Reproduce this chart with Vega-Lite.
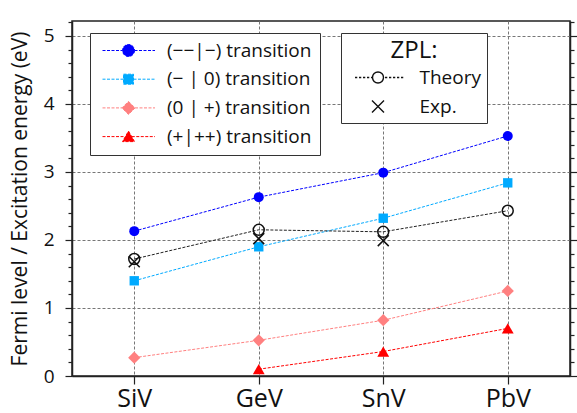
{
  "$schema": "https://vega.github.io/schema/vega-lite/v6.json",
  "autosize": "none",
  "width": 498,
  "height": 355,
  "padding": {"left": 72, "top": 21, "right": 7, "bottom": 37},
  "background": "white",
  "config": {
    "font": "Open Sans",
    "view": {"stroke": "#222", "strokeWidth": 1.5},
    "axis": {
      "labelFont": "Open Sans",
      "titleFont": "Open Sans",
      "labelColor": "#111",
      "titleColor": "#111",
      "tickColor": "#222",
      "domainColor": "#222",
      "domainWidth": 1.5,
      "tickWidth": 1.2,
      "gridColor": "#777",
      "gridDash": [3, 2],
      "gridWidth": 1
    }
  },
  "datasets": {
    "trans": [
      {"site": "SiV", "series": "(−−|−) transition", "energy": 2.13},
      {"site": "GeV", "series": "(−−|−) transition", "energy": 2.63},
      {"site": "SnV", "series": "(−−|−) transition", "energy": 2.99},
      {"site": "PbV", "series": "(−−|−) transition", "energy": 3.53},
      {"site": "SiV", "series": "(− | 0) transition", "energy": 1.40},
      {"site": "GeV", "series": "(− | 0) transition", "energy": 1.90},
      {"site": "SnV", "series": "(− | 0) transition", "energy": 2.32},
      {"site": "PbV", "series": "(− | 0) transition", "energy": 2.84},
      {"site": "SiV", "series": "(0 | +) transition", "energy": 0.27},
      {"site": "GeV", "series": "(0 | +) transition", "energy": 0.525},
      {"site": "SnV", "series": "(0 | +) transition", "energy": 0.82},
      {"site": "PbV", "series": "(0 | +) transition", "energy": 1.25},
      {"site": "GeV", "series": "(+|++) transition", "energy": 0.10},
      {"site": "SnV", "series": "(+|++) transition", "energy": 0.36},
      {"site": "PbV", "series": "(+|++) transition", "energy": 0.70}
    ],
    "zpl": [
      {"site": "SiV", "kind": "Theory", "energy": 1.72},
      {"site": "GeV", "kind": "Theory", "energy": 2.15},
      {"site": "SnV", "kind": "Theory", "energy": 2.12},
      {"site": "PbV", "kind": "Theory", "energy": 2.43},
      {"site": "SiV", "kind": "Exp.", "energy": 1.68},
      {"site": "GeV", "kind": "Exp.", "energy": 2.02},
      {"site": "SnV", "kind": "Exp.", "energy": 1.99}
    ]
  },
  "encoding": {
    "x": {
      "field": "site",
      "type": "ordinal",
      "sort": ["SiV", "GeV", "SnV", "PbV"],
      "scale": {"type": "point", "domain": ["SiV", "GeV", "SnV", "PbV"], "padding": 0.5},
      "axis": {"title": null, "labelAngle": 0, "labelFontSize": 25, "tickSize": 8, "labelPadding": 2, "grid": true, "domain": true}
    }
  },
  "layer": [
    {
      "data": {"name": "trans"},
      "mark": {"type": "line", "strokeDash": [3, 1.5], "strokeWidth": 1},
      "encoding": {
        "y": {
          "field": "energy", "type": "quantitative",
          "scale": {"domain": [0, 5.22], "nice": false, "zero": false},
          "axis": {"orient": "left", "values": [0, 1, 2, 3, 4, 5], "format": "d", "title": "Fermi level / Excitation energy (eV)", "titleFontSize": 21, "titleFontWeight": "normal", "titlePadding": 13, "labelFontSize": 19, "labelPadding": 11, "tickSize": 7, "grid": true}
        },
        "stroke": {
          "field": "series", "type": "nominal",
          "scale": {"domain": ["(− | 0) transition", "(−−|−) transition", "(0 | +) transition", "(+|++) transition"], "range": ["#00aaff", "#0000ff", "#ff8080", "#ff0000"]},
          "legend": null
        }
      }
    },
    {
      "data": {"name": "trans"},
      "mark": {"type": "point", "filled": true, "opacity": 1, "strokeWidth": 0},
      "encoding": {
        "y": {
          "field": "energy", "type": "quantitative",
          "axis": {"orient": "left", "values": [0.2, 0.4, 0.6, 0.8, 1.2, 1.4, 1.6, 1.8, 2.2, 2.4, 2.6, 2.8, 3.2, 3.4, 3.6, 3.8, 4.2, 4.4, 4.6, 4.8, 5.2], "labels": false, "grid": false, "domain": false, "tickSize": 4, "title": null}
        },
        "color": {
          "field": "series", "type": "nominal",
          "scale": {"domain": ["(−−|−) transition", "(− | 0) transition", "(0 | +) transition", "(+|++) transition"], "range": ["#0000ff", "#00aaff", "#ff8080", "#ff0000"]},
          "legend": {
            "orient": "none", "legendX": 18, "legendY": 12, "title": null,
            "padding": 8, "rowPadding": 8.7, "symbolOffset": 21, "labelOffset": 29,
            "labelFontSize": 19, "labelFont": "Open Sans", "labelColor": "#111", "labelLimit": 400,
            "strokeColor": "#333", "fillColor": "white", "symbolSize": 100, "symbolStrokeWidth": 1,
            "symbolOpacity": 1,
            "symbolDash": [3, 1.5],
            "encode": {
              "symbols": {
                "update": {
                  "shape": {"signal": "['M1.2,0A1.2,1.2,0,1,1,-1.2,0A1.2,1.2,0,1,1,1.2,0ZM-5.2,0H-1.2M1.2,0H5.3', 'M-1,-1H1V1H-1ZM-5.2,0H-1M1,0H5.3', 'M0,-1.3L1.3,0L0,1.3L-1.3,0ZM-5.2,0H-1.3M1.3,0H5.3', 'M0,-1.1L1.2,1L-1.2,1ZM-5.2,0H-0.65M0.65,0H5.3'][datum.index]"},
                  "stroke": {"signal": "['#0000ff', '#00aaff', '#ff8080', '#ff0000'][datum.index]"}
                }
              }
            }
          }
        },
        "shape": {
          "field": "series", "type": "nominal",
          "scale": {"domain": ["(0 | +) transition", "(−−|−) transition", "(− | 0) transition", "(+|++) transition"], "range": ["diamond", "circle", "square", "triangle-up"]},
          "legend": null
        },
        "size": {
          "field": "series", "type": "nominal",
          "scale": {"type": "ordinal", "domain": ["(+|++) transition", "(−−|−) transition", "(− | 0) transition", "(0 | +) transition"], "range": [140, 100, 88, 150]},
          "legend": null
        }
      }
    },
    {
      "data": {"name": "zpl"},
      "transform": [{"filter": "datum.kind === 'Theory'"}],
      "mark": {"type": "line", "strokeDash": [3, 1.5], "strokeWidth": 1, "color": "#222"},
      "encoding": {
        "y": {
          "field": "energy", "type": "quantitative",
          "axis": {"orient": "right", "values": [0, 1, 2, 3, 4, 5], "labels": false, "grid": false, "domain": true, "tickSize": 7, "title": null}
        }
      }
    },
    {
      "data": {"name": "zpl"},
      "mark": {"type": "point", "filled": false, "strokeWidth": 1.5, "opacity": 1, "size": 120, "color": "#111111"},
      "encoding": {
        "y": {
          "field": "energy", "type": "quantitative",
          "axis": {"orient": "right", "values": [0.2, 0.4, 0.6, 0.8, 1.2, 1.4, 1.6, 1.8, 2.2, 2.4, 2.6, 2.8, 3.2, 3.4, 3.6, 3.8, 4.2, 4.4, 4.6, 4.8, 5.2], "labels": false, "grid": false, "domain": false, "tickSize": 4, "title": null}
        },
        "shape": {
          "field": "kind", "type": "nominal",
          "scale": {"domain": ["Exp.", "Theory"], "range": ["M-1,-1L1,1M-1,1L1,-1", "circle"]},
          "legend": null
        }
      }
    },
    {
      "data": {"name": "zpl"},
      "mark": {"type": "point", "filled": false, "strokeWidth": 1.4, "opacity": 0, "size": 100, "color": "#111111"},
      "encoding": {
        "y": {"field": "energy", "type": "quantitative", "axis": null},
        "shape": {
          "field": "kind", "type": "nominal",
          "scale": {"domain": ["Theory", "Exp."], "range": ["M1.1,0A1.1,1.1,0,1,1,-1.1,0A1.1,1.1,0,1,1,1.1,0ZM-4.6,0H-4.15M-3.8,0H-3.35M-3.0,0H-2.55M-2.2,0H-1.75M-1.4,0H-1.1M1.4,0H1.85M2.2,0H2.65M3.0,0H3.45M3.8,0H4.25M4.6,0H5.05", "M-1.2,-1.2L1.2,1.2M-1.2,1.2L1.2,-1.2"]},
          "legend": {
            "orient": "none", "legendX": 269, "legendY": 12, "title": "ZPL:",
            "titleFontSize": 24, "titleFont": "Open Sans", "titleFontWeight": "normal", "titleAnchor": "middle", "titleColor": "#111", "titlePadding": 5,
            "padding": 6, "rowPadding": 9, "symbolOffset": 21.5, "labelOffset": 32,
            "labelFontSize": 19, "labelFont": "Open Sans", "labelColor": "#111", "labelLimit": 400,
            "strokeColor": "#333", "fillColor": "white", "symbolSize": 100,
            "symbolFillColor": "transparent", "symbolStrokeColor": "#111111", "symbolStrokeWidth": 1.4, "symbolOpacity": 1
          }
        }
      }
    }
  ],
  "resolve": {"scale": {"shape": "independent", "color": "independent"}, "axis": {"y": "independent"}}
}
